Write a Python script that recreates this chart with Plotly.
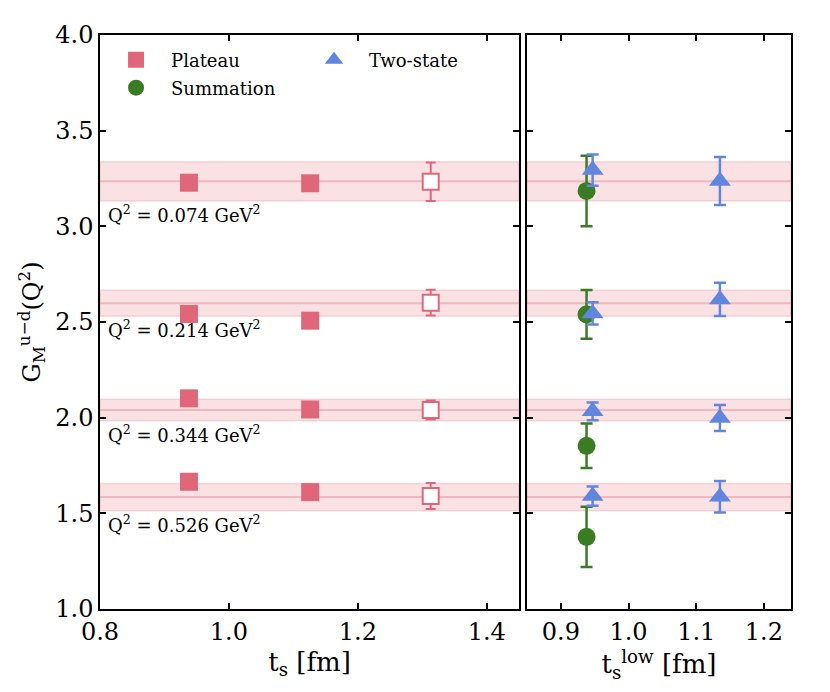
import plotly.graph_objects as go

# ---------------- data ----------------
q2_labels = ["0.074", "0.214", "0.344", "0.526"]
band_center = [3.235, 2.598, 2.040, 1.585]
band_err = [0.102, 0.068, 0.056, 0.071]

ts_plateau = [0.938, 1.126, 1.313]
plateau_vals = [
    [3.228, 3.225, 3.233],
    [2.542, 2.507, 2.601],
    [2.101, 2.043, 2.040],
    [1.665, 1.611, 1.590],
]
plateau_errs = [
    [0.02, 0.035, 0.100],
    [0.02, 0.02, 0.067],
    [0.02, 0.02, 0.050],
    [0.02, 0.02, 0.068],
]

tlow_summation = [0.938]
summation_vals = [3.185, 2.540, 1.853, 1.377]
summation_errs = [0.184, 0.127, 0.116, 0.157]

tlow_twostate = [0.947, 1.135]
twostate_vals = [
    [3.294, 3.237],
    [2.545, 2.618],
    [2.033, 1.998],
    [1.590, 1.587],
]
twostate_errs = [
    [0.082, 0.126],
    [0.058, 0.087],
    [0.046, 0.068],
    [0.050, 0.082],
]

x_ticks_left = [0.8, 1.0, 1.2, 1.4]
x_ticks_right = [0.9, 1.0, 1.1, 1.2]
y_ticks = [1.0, 1.5, 2.0, 2.5, 3.0, 3.5, 4.0]

# ---------------- style ----------------
PINK = "#E0677A"
GREEN = "#397C24"
BLUE = "#6086E0"
FONT = "DejaVu Serif"

fig = go.Figure()

# Plateau: filled points (first two t_s), open point (last t_s)
for i in range(len(band_center)):
    fig.add_trace(go.Scatter(
        x=ts_plateau[:2], y=plateau_vals[i][:2],
        error_y=dict(type="data", array=plateau_errs[i][:2], color=PINK, thickness=2, width=5),
        mode="markers",
        marker=dict(symbol="square", size=18, color=PINK),
        name="Plateau", legend="legend", showlegend=(i == 0),
        xaxis="x", yaxis="y",
    ))
    fig.add_trace(go.Scatter(
        x=ts_plateau[2:], y=plateau_vals[i][2:],
        error_y=dict(type="data", array=plateau_errs[i][2:], color=PINK, thickness=2, width=5),
        mode="markers",
        marker=dict(symbol="square", size=16, color="white", line=dict(color=PINK, width=2)),
        showlegend=False,
        xaxis="x", yaxis="y",
    ))

# Summation (right panel)
fig.add_trace(go.Scatter(
    x=tlow_summation * len(summation_vals), y=summation_vals,
    error_y=dict(type="data", array=summation_errs, color=GREEN, thickness=2.5, width=6),
    mode="markers",
    marker=dict(symbol="circle", size=18, color=GREEN),
    name="Summation", legend="legend2",
    xaxis="x2", yaxis="y2",
))

# Two-state (right panel)
for i in range(len(twostate_vals)):
    fig.add_trace(go.Scatter(
        x=tlow_twostate, y=twostate_vals[i],
        error_y=dict(type="data", array=twostate_errs[i], color=BLUE, thickness=2.5, width=6),
        mode="markers",
        marker=dict(symbol="triangle-up", size=19, color=BLUE),
        name="Two-state", legend="legend3", showlegend=(i == 0),
        xaxis="x2", yaxis="y2",
    ))

# Bands (both panels)
shapes = []
for c, e in zip(band_center, band_err):
    for xr, yr in [("x domain", "y"), ("x2 domain", "y2")]:
        shapes.append(dict(type="rect", xref=xr, yref=yr, x0=0, x1=1, y0=c - e, y1=c + e,
                           fillcolor="rgba(225,104,120,0.2)",
                           line=dict(color="rgba(225,104,120,0.22)", width=1.5), layer="below"))
        shapes.append(dict(type="line", xref=xr, yref=yr, x0=0, x1=1, y0=c, y1=c,
                           line=dict(color="rgba(225,104,120,0.35)", width=2), layer="below"))

annotations = []
for lab, c, e in zip(q2_labels, band_center, band_err):
    annotations.append(dict(
        xref="x", yref="y", x=0.81, y=c - e - 0.068, xanchor="left", yanchor="middle",
        text=f"Q<sup>2</sup> = {lab} GeV<sup>2</sup>", showarrow=False,
        font=dict(family=FONT, size=18, color="black"),
    ))

axis_common = dict(
    showline=True, linecolor="black", linewidth=1.5, mirror="ticks",
    ticks="inside", ticklen=6, tickwidth=1.5, tickcolor="black",
    showgrid=False, zeroline=False,
    tickfont=dict(family=FONT, size=24, color="black"),
)

legend_common = dict(
    bgcolor="rgba(0,0,0,0)", borderwidth=0, itemwidth=60,
    font=dict(family=FONT, size=18, color="black"),
    xanchor="left", yanchor="middle", orientation="v",
)

fig.update_layout(
    width=822, height=684,
    margin=dict(l=92, r=39, t=27, b=83),
    paper_bgcolor="white", plot_bgcolor="white",
    xaxis=dict(domain=[0, 0.6064], range=[0.8, 1.45], tickvals=x_ticks_left,
               ticktext=[f"{v:.1f}" for v in x_ticks_left],
               title=dict(text="t<sub>s</sub> [fm]", font=dict(family=FONT, size=26, color="black"), standoff=8),
               anchor="y", **axis_common),
    xaxis2=dict(domain=[0.6179, 1], range=[0.85, 1.24], tickvals=x_ticks_right,
                ticktext=[f"{v:.1f}" for v in x_ticks_right],
                title=dict(text="t<sub>s</sub><sup>low</sup> [fm]", font=dict(family=FONT, size=26, color="black"), standoff=8),
                anchor="y2", **axis_common),
    yaxis=dict(domain=[0, 1], range=[1.0, 4.0], tickvals=y_ticks,
               ticktext=[f"{v:.1f}" for v in y_ticks],
               title=dict(text="G<sub>M</sub><sup>u−d</sup>(Q<sup>2</sup>)", font=dict(family=FONT, size=24, color="black"), standoff=8),
               anchor="x", **axis_common),
    yaxis2=dict(domain=[0, 1], range=[1.0, 4.0], matches="y", tickvals=y_ticks,
                showticklabels=False, anchor="x2", **axis_common),
    shapes=shapes,
    annotations=annotations,
    legend=dict(x=0.0015, y=0.9564, **legend_common),
    legend2=dict(x=0.0015, y=0.9077, **legend_common),
    legend3=dict(x=0.288, y=0.9564, **legend_common),
    showlegend=True,
)

fig.write_html("out.html")
